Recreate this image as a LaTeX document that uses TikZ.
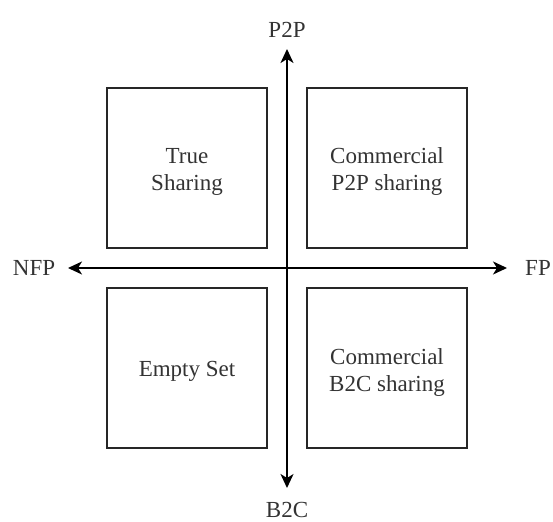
\documentclass[tikz,border=0pt]{standalone}
\usepackage{fontspec}
\setmainfont{Liberation Serif}
\usetikzlibrary{arrows.meta}
\begin{document}
\begin{tikzpicture}[x=1pt,y=-1pt,
  quad/.style={draw=black!85, line width=1.4pt, minimum width=160pt, minimum height=160pt, inner sep=0pt},
  quadtext/.style={align=center, inner sep=0pt, text=black!80, font=\fontsize{23}{27}\selectfont},
  axislabel/.style={text=black!80, font=\fontsize{23}{27}\selectfont, inner sep=0pt},
  axis/.style={line width=1.8pt, draw=black,
    {Stealth[length=14pt,width=13pt,inset=4pt]}-{Stealth[length=14pt,width=13pt,inset=4pt]}}]
  \useasboundingbox (0,0) rectangle (553,521);
  % quadrant boxes
  \node[quad] (tl) at (187,168) {};
  \node[quad] (tr) at (387,168) {};
  \node[quad] (bl) at (187,368) {};
  \node[quad] (br) at (387,368) {};
  % quadrant captions, set slightly below the box centres
  \node[quadtext] (tlt) at ([yshift=-4pt]tl.center) {True\\Sharing};
  \node[quadtext] (trt) at ([yshift=-4pt]tr.center) {Commercial\\P2P sharing};
  \node[quadtext] (blt) at ([yshift=-3pt]bl.center) {Empty Set};
  \node[quadtext] (brt) at ([yshift=-4pt]br.center) {Commercial\\B2C sharing};
  % axis ends
  \coordinate (up) at (287,49);
  \coordinate (down) at (287,488);
  \coordinate (left) at (68,268);
  \coordinate (right) at (507,268);
  % axes
  \draw[axis] (down) -- (up);
  \draw[axis] (left) -- (right);
  % axis labels
  \node[axislabel] (p2p) at (287,30) {P2P};
  \node[axislabel] (b2c) at (287,510) {B2C};
  \node[axislabel] (nfp) at (34,268) {NFP};
  \node[axislabel] (fp) at (538,268) {FP};
\end{tikzpicture}
\end{document}
